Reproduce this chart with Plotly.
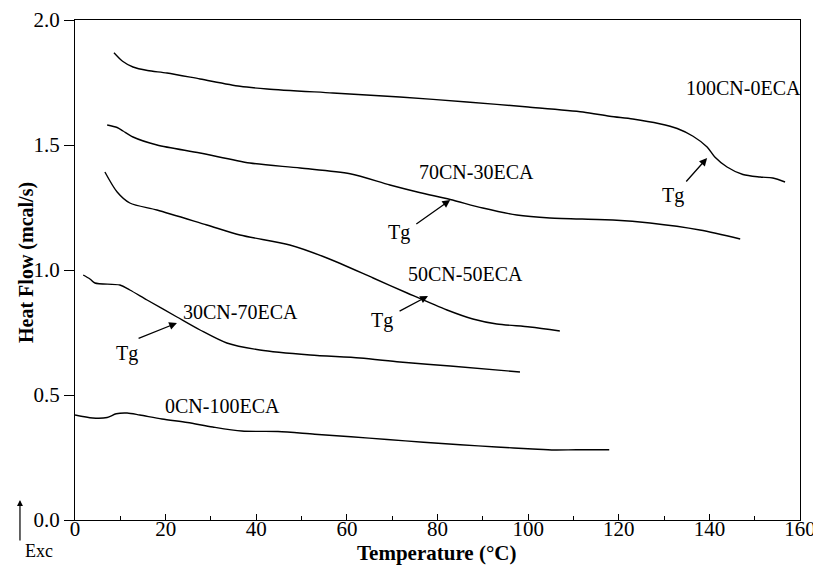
import plotly.graph_objects as go

# Temperature (°C) and heat flow (mcal/s) for each blend
t_100cn = [8.6, 10.5, 12.8, 16.0, 20.3, 27.6, 36.4, 42.4, 56.9, 71.7, 86.5, 100.0, 112.1, 118.0, 123.1, 129.0, 132.9, 136.4, 139.5, 141.2, 143.9, 147.4, 151.2, 154.0, 156.7]
h_100cn = [1.869, 1.835, 1.812, 1.798, 1.788, 1.764, 1.735, 1.724, 1.708, 1.692, 1.672, 1.652, 1.632, 1.615, 1.604, 1.585, 1.566, 1.535, 1.492, 1.452, 1.412, 1.382, 1.372, 1.368, 1.352]

t_70cn = [7.1, 9.3, 10.6, 12.8, 18.1, 27.6, 38.6, 49.7, 60.7, 69.5, 76.0, 82.8, 90.0, 97.5, 104.8, 118.7, 126.9, 137.9, 146.8]
h_70cn = [1.580, 1.570, 1.556, 1.532, 1.500, 1.468, 1.428, 1.408, 1.385, 1.340, 1.310, 1.282, 1.248, 1.220, 1.208, 1.200, 1.188, 1.160, 1.124]

t_50cn = [6.6, 9.3, 12.1, 18.1, 29.1, 36.4, 47.4, 55.6, 65.8, 73.3, 82.1, 87.8, 93.1, 100.4, 107.0]
h_50cn = [1.392, 1.312, 1.268, 1.240, 1.180, 1.140, 1.100, 1.048, 0.968, 0.908, 0.840, 0.804, 0.784, 0.772, 0.756]

t_30cn = [1.8, 3.3, 4.4, 9.9, 12.1, 15.9, 22.5, 27.6, 33.5, 40.8, 51.9, 62.9, 71.7, 82.8, 98.2]
h_30cn = [0.980, 0.964, 0.948, 0.940, 0.920, 0.880, 0.812, 0.760, 0.708, 0.680, 0.660, 0.648, 0.632, 0.616, 0.592]

t_0cn = [0.0, 3.9, 7.1, 9.1, 11.5, 14.3, 19.2, 24.8, 30.4, 36.8, 44.8, 52.9, 60.9, 68.9, 76.9, 85.0, 93.0, 101.0, 105.8, 110.7, 117.9]
h_0cn = [0.420, 0.408, 0.410, 0.425, 0.428, 0.420, 0.404, 0.390, 0.372, 0.356, 0.354, 0.343, 0.333, 0.322, 0.311, 0.301, 0.292, 0.284, 0.280, 0.281, 0.281]

series = [
    ("100CN-0ECA", t_100cn, h_100cn),
    ("70CN-30ECA", t_70cn, h_70cn),
    ("50CN-50ECA", t_50cn, h_50cn),
    ("30CN-70ECA", t_30cn, h_30cn),
    ("0CN-100ECA", t_0cn, h_0cn),
]

# label positions (data coords)
labels = [
    ("100CN-0ECA", 147.6, 1.728),
    ("70CN-30ECA", 88.7, 1.392),
    ("50CN-50ECA", 86.1, 0.984),
    ("30CN-70ECA", 36.6, 0.832),
    ("0CN-100ECA", 32.6, 0.456),
]
# Tg arrows: (text x, text y, tail x, tail y, head x, head y)
tg_marks = [
    (132.0, 1.300, 134.6, 1.348, 139.5, 1.448),
    (71.5, 1.152, 75.0, 1.180, 82.8, 1.280),
    (67.8, 0.800, 71.3, 0.832, 77.9, 0.896),
    (11.5, 0.668, 13.7, 0.724, 22.5, 0.788),
]

FONT = "Liberation Serif"
fig = go.Figure()
for name, t, h in series:
    fig.add_trace(go.Scatter(x=t, y=h, mode="lines", name=name,
                             line=dict(color="black", width=1.4, shape="spline", smoothing=0.8),
                             showlegend=False))

for txt, x, y in labels:
    fig.add_annotation(x=x, y=y, text=txt, showarrow=False,
                       xanchor="center", yanchor="middle",
                       font=dict(family=FONT, size=20, color="black"))

for tx, ty, x0, y0, x1, y1 in tg_marks:
    fig.add_annotation(x=tx, y=ty, text="Tg", showarrow=False,
                       xanchor="center", yanchor="middle",
                       font=dict(family=FONT, size=20, color="black"))
    fig.add_annotation(x=x1, y=y1, ax=x0, ay=y0, axref="x", ayref="y",
                       text="", showarrow=True, arrowhead=2, arrowsize=1.2,
                       arrowwidth=1.3, arrowcolor="black")

# axis titles as annotations for exact placement
fig.add_annotation(xref="paper", yref="paper", x=0.499, y=-0.065,
                   xanchor="center", yanchor="middle", showarrow=False,
                   text="<b>Temperature (°C)</b>", font=dict(family=FONT, size=21, color="black"))
fig.add_annotation(xref="paper", yref="paper", x=-0.0676, y=0.516, textangle=-90,
                   xanchor="center", yanchor="middle", showarrow=False,
                   text="<b>Heat Flow (mcal/s)</b>", font=dict(family=FONT, size=20, color="black"))

# "Exc" indicator outside the plot
fig.add_annotation(xref="paper", yref="paper", x=-0.0759, y=0.04, ax=0, ay=42,
                   text="", showarrow=True, arrowhead=2, arrowsize=1, arrowwidth=1.2,
                   arrowcolor="black")
fig.add_annotation(xref="paper", yref="paper", x=-0.049, y=-0.062, text="Exc",
                   xanchor="center", yanchor="middle",
                   showarrow=False, font=dict(family=FONT, size=18, color="black"))

fig.update_layout(
    width=813, height=570,
    margin=dict(l=75, r=13, t=20, b=50, autoexpand=False),
    paper_bgcolor="white", plot_bgcolor="white",
    font=dict(family=FONT, size=20, color="black"),
    xaxis=dict(range=[0, 160], tickvals=[0, 20, 40, 60, 80, 100, 120, 140, 160],
               ticks="inside", ticklen=6, tickwidth=1, tickcolor="black",
               showline=True, linecolor="black", linewidth=1, mirror=True,
               showgrid=False, zeroline=False, automargin=False,
               ticklabelstandoff=-10, ticklabeloverflow="allow",
               minor=dict(dtick=10, ticks="inside", ticklen=4, tickcolor="black"),
               tickfont=dict(family=FONT, size=21)),
    yaxis=dict(range=[0, 2.0], tickvals=[0, 0.5, 1.0, 1.5, 2.0],
               ticktext=["0.0", "0.5", "1.0", "1.5", "2.0"],
               ticks="outside", ticklen=10, tickwidth=1, tickcolor="black",
               showline=True, linecolor="black", linewidth=1, mirror=True,
               showgrid=False, zeroline=False, automargin=False,
               tickfont=dict(family=FONT, size=21)),
)

fig.write_html("out.html")
